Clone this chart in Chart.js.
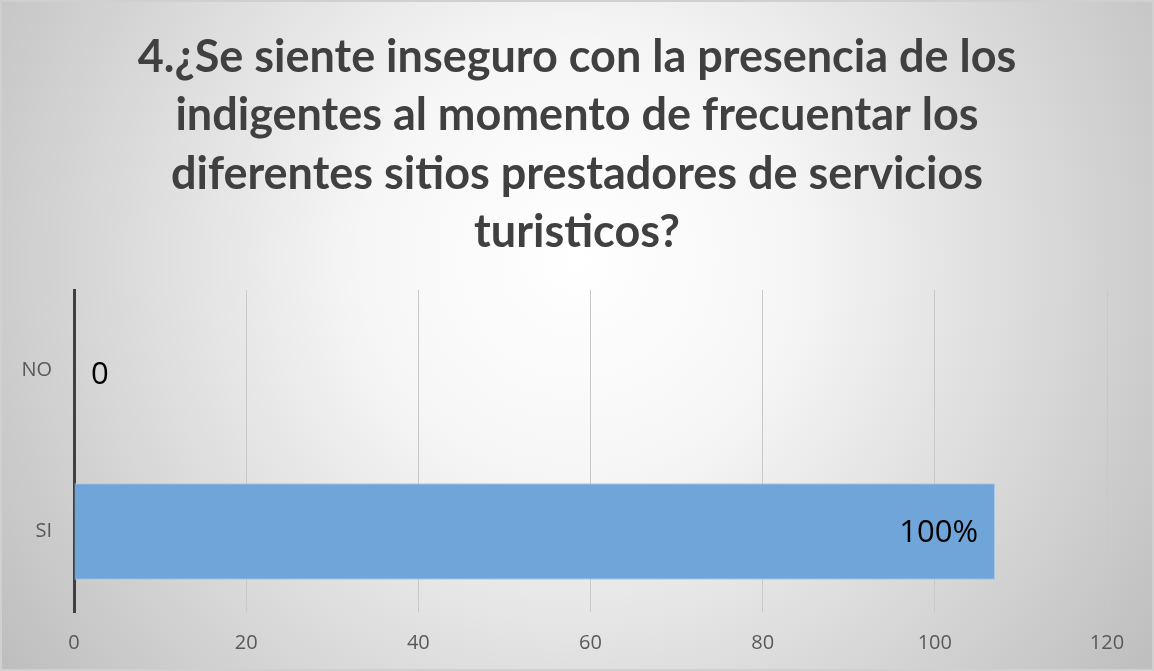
<!DOCTYPE html>
<html>
<head>
<meta charset="utf-8">
<script src="https://cdn.jsdelivr.net/npm/chart.js@4"></script>
<style>
    html, body { margin: 0; padding: 0; background: #fff; }
    #wrap { width: 1154px; height: 671px; position: relative; }
</style>
</head>
<body>
<div id="wrap"><canvas id="chart-survey"></canvas></div>
<script>
const titleLines = [
    "4.¿Se siente inseguro con la presencia de los",
    "indigentes al momento de frecuentar los",
    "diferentes sitios prestadores de servicios",
    "turisticos?"
]
const categories = ["NO", "SI"]
const values = [0, 107]
const valueLabels = ["0", "100%"]
const xTicks = [0, 20, 40, 60, 80, 100, 120]

// radial grey background like the office chart
const backgroundPlugin = {
    id: "bg",
    beforeDraw(chart) {
        const { ctx, width, height } = chart
        const g = ctx.createRadialGradient(577, 260, 0, 577, 260, 720)
        g.addColorStop(0, "#ffffff")
        g.addColorStop(0.3, "#f6f6f6")
        g.addColorStop(1, "#bcbcbc")
        ctx.save()
        ctx.fillStyle = g
        ctx.fillRect(0, 0, width, height)
        ctx.strokeStyle = "#d0d0d0"
        ctx.lineWidth = 2
        ctx.strokeRect(1, 1, width - 2, height - 2)
        ctx.restore()
    }
}

// title centred on the whole canvas, space kept free by layout padding
const titlePlugin = {
    id: "centerTitle",
    afterDraw(chart) {
        const { ctx, width } = chart
        ctx.save()
        ctx.fillStyle = "#404040"
        ctx.font = "bold 45px Lato"
        ctx.textAlign = "center"
        ctx.textBaseline = "middle"
        titleLines.forEach((line, i) => {
            ctx.fillText(line, width / 2, 57 + i * 58.5)
        })
        ctx.restore()
    }
}

const valueLabelPlugin = {
    id: "valueLabels",
    afterDatasetsDraw(chart) {
        const { ctx } = chart
        const meta = chart.getDatasetMeta(0)
        ctx.save()
        ctx.fillStyle = "#000000"
        ctx.font = "31px 'Open Sans'"
        ctx.textBaseline = "middle"
        meta.data.forEach((bar, i) => {
            const text = valueLabels[i]
            if (values[i] === 0) {
                ctx.textAlign = "left"
                ctx.fillText(text, bar.x + 17, bar.y + 5)
            } else {
                ctx.textAlign = "right"
                ctx.fillText(text, bar.x - 17, bar.y + 2)
            }
        })
        ctx.restore()
    }
}

const ctx = document.getElementById("chart-survey").getContext("2d")
const myChart = new Chart(ctx, {
    type: "bar",
    data: {
        labels: categories,
        datasets: [{
            data: values,
            backgroundColor: "#6fa5d8",
            borderColor: "#a9cbea",
            borderWidth: 1,
            borderSkipped: "left",
            categoryPercentage: 0.6,
            barPercentage: 1
        }]
    },
    options: {
        indexAxis: "y",
        responsive: true,
        maintainAspectRatio: false,
        animation: false,
        layout: { padding: { top: 290, right: 47, left: 0, bottom: 0 } },
        plugins: {
            legend: { display: false },
            tooltip: { enabled: false },
            title: { display: false }
        },
        scales: {
            x: {
                min: 0,
                max: 120,
                afterBuildTicks: (scale) => {
                    scale.ticks = xTicks.map((v) => ({ value: v }))
                },
                afterFit: (scale) => { scale.height = 59 },
                grid: { color: "#c8c8c8", lineWidth: 1, drawTicks: false },
                border: { display: false },
                ticks: {
                    color: "#595959",
                    font: { family: "'Open Sans'", size: 20 },
                    padding: 19
                }
            },
            y: {
                afterFit: (scale) => { scale.width = 74 },
                grid: { display: false },
                border: { display: true, color: "#404040", width: 3 },
                ticks: {
                    color: "#595959",
                    font: { family: "'Open Sans'", size: 20 },
                    padding: 14
                }
            }
        }
    },
    plugins: [backgroundPlugin, titlePlugin, valueLabelPlugin]
})
</script>
</body>
</html>
